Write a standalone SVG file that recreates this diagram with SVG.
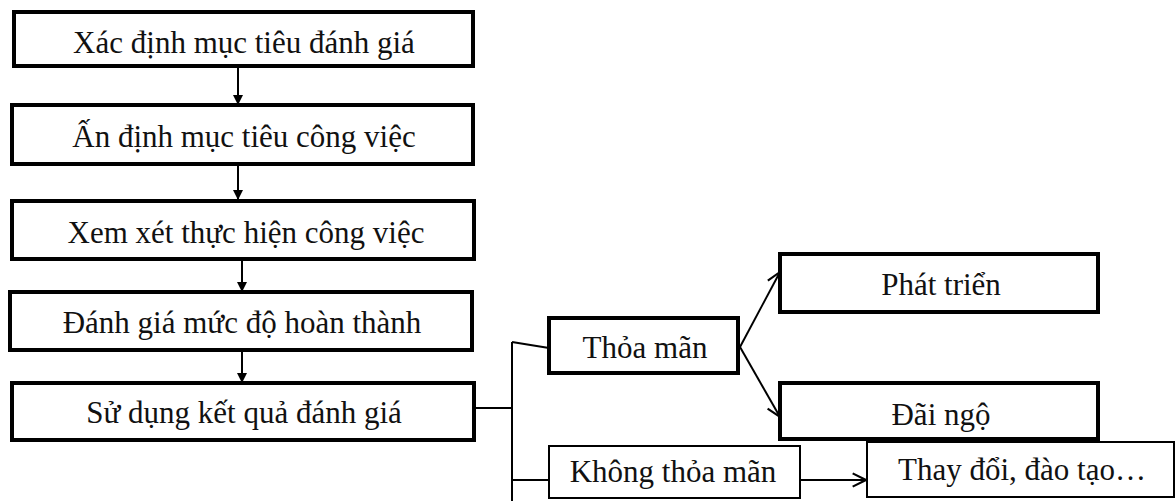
<svg xmlns="http://www.w3.org/2000/svg" width="1176" height="501" viewBox="0 0 1176 501">
  <style>
    .box { fill: #fff; stroke: #000; stroke-width: 4; }
    .thin { fill: #fff; stroke: #000; stroke-width: 2; }
    .lbl { font-family: "Liberation Serif", "Times New Roman", serif; font-size: 31px; fill: #111; text-anchor: middle; }
    .wire { fill: none; stroke: #000; stroke-width: 2; }
  </style>
  <defs>
    <marker id="solid" viewBox="0 0 10 10" refX="10" refY="5" markerWidth="10" markerHeight="10" markerUnits="userSpaceOnUse" orient="auto">
      <path d="M0,0 L10,5 L0,10 Z" fill="#000"/>
    </marker>
    <marker id="open" viewBox="0 0 12 12" refX="11" refY="6" markerWidth="16" markerHeight="16" markerUnits="userSpaceOnUse" orient="auto">
      <path d="M1,1 L11,6 L1,11" fill="none" stroke="#000" stroke-width="1.6"/>
    </marker>
  </defs>
  <rect width="1176" height="501" fill="#fff"/>

  <g id="connectors">
    <line class="wire" x1="238" y1="66" x2="238" y2="105" marker-end="url(#solid)"/>
    <line class="wire" x1="238" y1="164" x2="238" y2="200" marker-end="url(#solid)"/>
    <line class="wire" x1="242" y1="259" x2="242" y2="292" marker-end="url(#solid)"/>
    <line class="wire" x1="242" y1="350" x2="242" y2="383" marker-end="url(#solid)"/>
    <line class="wire" x1="474" y1="408" x2="512" y2="408"/>
    <line class="wire" x1="512" y1="342" x2="512" y2="501"/>
    <line class="wire" x1="512" y1="342" x2="549" y2="348"/>
    <line class="wire" x1="512" y1="480" x2="549" y2="480"/>
    <line class="wire" x1="740" y1="347" x2="780" y2="272" marker-end="url(#open)"/>
    <line class="wire" x1="740" y1="347" x2="780" y2="417" marker-end="url(#open)"/>
    <line class="wire" x1="800" y1="480" x2="866" y2="480" marker-end="url(#open)"/>
  </g>

  <g id="n1"><rect class="box" x="14" y="12" width="459" height="54"/><text class="lbl" x="244" y="53">Xác định mục tiêu đánh giá</text></g>
  <g id="n2"><rect class="box" x="12" y="105" width="461" height="59"/><text class="lbl" x="244" y="147">Ấn định mục tiêu công việc</text></g>
  <g id="n3"><rect class="box" x="12" y="201" width="462" height="58"/><text class="lbl" x="246" y="243">Xem xét thực hiện công việc</text></g>
  <g id="n4"><rect class="box" x="10" y="292" width="462" height="58"/><text class="lbl" x="242" y="333">Đánh giá mức độ hoàn thành</text></g>
  <g id="n5"><rect class="box" x="12" y="383" width="462" height="57"/><text class="lbl" x="244" y="423">Sử dụng kết quả đánh giá</text></g>
  <g id="n6"><rect class="box" x="549" y="318" width="189" height="55"/><text class="lbl" x="645" y="358">Thỏa mãn</text></g>
  <g id="n7"><rect class="box" x="780" y="254" width="318" height="58"/><text class="lbl" x="941" y="295">Phát triển</text></g>
  <g id="n8"><rect class="box" x="780" y="383" width="318" height="56"/><text class="lbl" x="941" y="425">Đãi ngộ</text></g>
  <g id="n9"><rect class="thin" x="549" y="446" width="251" height="52"/><text class="lbl" x="673" y="482">Không thỏa mãn</text></g>
  <g id="n10"><rect class="thin" x="867" y="442" width="307" height="55"/><text class="lbl" x="1022" y="480">Thay đổi, đào tạo…</text></g>
</svg>
